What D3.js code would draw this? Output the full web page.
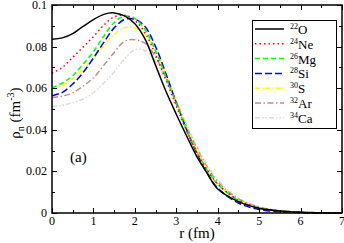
<!DOCTYPE html>
<html>
<head>
<meta charset="utf-8">
<script src="https://cdn.jsdelivr.net/npm/d3@7"></script>
<style>
  body { margin: 0; background: #fff; }
  svg { display: block; }
</style>
</head>
<body>
<div id="chart"></div>
<script>
var width = 344,
    height = 243;

var margin = {left: 52, right: 2, top: 5, bottom: 30};
var serif = "'Liberation Serif', 'DejaVu Serif', Times, serif";

// radial grid (fm)
var rValues = [0, 0.25, 0.5, 0.75, 1, 1.25, 1.5, 1.75, 2, 2.25, 2.5, 2.75, 3, 3.25, 3.5, 3.75, 4, 4.5, 5, 5.5, 6, 6.5, 7];

// neutron densities
var rhoO22  = [0.0835, 0.0842, 0.0862, 0.0897, 0.0930, 0.0955, 0.0962, 0.0948, 0.0910, 0.0835, 0.0710, 0.0585, 0.0475, 0.0370, 0.0270, 0.0190, 0.0115, 0.0055, 0.0023, 0.0010, 0.0004, 0.0001, 0];
var rhoNe24 = [0.0672, 0.0700, 0.0748, 0.0797, 0.0848, 0.0903, 0.0943, 0.0950, 0.0925, 0.0865, 0.0760, 0.0640, 0.0515, 0.0395, 0.0290, 0.0205, 0.0140, 0.0062, 0.0026, 0.0010, 0.0004, 0.0001, 0];
var rhoMg26 = [0.0602, 0.0625, 0.0660, 0.0715, 0.0775, 0.0850, 0.0915, 0.0947, 0.0935, 0.0880, 0.0780, 0.0655, 0.0525, 0.0400, 0.0292, 0.0205, 0.0138, 0.0060, 0.0024, 0.0009, 0.0003, 0.0001, 0];
var rhoSi28 = [0.0564, 0.0580, 0.0620, 0.0675, 0.0745, 0.0820, 0.0890, 0.0930, 0.0932, 0.0895, 0.0800, 0.0670, 0.0530, 0.0400, 0.0285, 0.0190, 0.0120, 0.0048, 0.0017, 0.0006, 0.0002, 0, 0];
var rhoS30  = [0.0600, 0.0615, 0.0645, 0.0690, 0.0742, 0.0805, 0.0858, 0.0890, 0.0890, 0.0860, 0.0780, 0.0665, 0.0535, 0.0410, 0.0300, 0.0210, 0.0140, 0.0060, 0.0024, 0.0009, 0.0003, 0.0001, 0];
var rhoAr32 = [0.0555, 0.0562, 0.0578, 0.0610, 0.0650, 0.0710, 0.0772, 0.0825, 0.0833, 0.0815, 0.0750, 0.0650, 0.0535, 0.0415, 0.0310, 0.0220, 0.0150, 0.0068, 0.0028, 0.0011, 0.0004, 0.0001, 0];
var rhoCa34 = [0.0512, 0.0518, 0.0530, 0.0548, 0.0578, 0.0625, 0.0678, 0.0740, 0.0785, 0.0780, 0.0730, 0.0645, 0.0540, 0.0425, 0.0320, 0.0230, 0.0160, 0.0072, 0.0030, 0.0012, 0.0005, 0.0001, 0];

var seriesMass  = ["22", "24", "26", "28", "30", "32", "34"];
var seriesElem  = ["O", "Ne", "Mg", "Si", "S", "Ar", "Ca"];
var seriesData  = [rhoO22, rhoNe24, rhoMg26, rhoSi28, rhoS30, rhoAr32, rhoCa34];
var seriesColor = ["#000000", "#ff0000", "#00ff00", "#0000ff", "#ffff00", "#bc8f8f", "#dcdcdc"];
var seriesDash  = [null, "1.5,3", "5,3", "7,3", "5,2,1.5,2", "6,2.5,1.5,2.5", "5,2,1.5,2,1.5,2"];

var xTicks = [0, 1, 2, 3, 4, 5, 6, 7];
var yTicks = [0, 0.02, 0.04, 0.06, 0.08, 0.1];

var svg = d3.select("#chart").append("svg")
  .attr("width", width)
  .attr("height", height)
  .style("font-family", serif);

var x = d3.scaleLinear()
  .domain([0, 7])
  .range([margin.left, width - margin.right]);

var y = d3.scaleLinear()
  .domain([0, 0.1])
  .range([height - margin.bottom, margin.top]);

var plot = svg.append("g");

// curves
var line = d3.line()
  .curve(d3.curveCatmullRom.alpha(0.5))
  .x(function(d) { return x(d[0]); })
  .y(function(d) { return y(d[1]); });

// draw from the last one so black ends on top
for (var s = seriesData.length - 1; s >= 0; s--) {
  var pts = rValues.map(function(r, i) { return [r, seriesData[s][i]]; });
  plot.append("path")
    .datum(pts)
    .attr("d", line)
    .style("fill", "none")
    .style("stroke", seriesColor[s])
    .style("stroke-width", 1.5)
    .style("stroke-dasharray", seriesDash[s]);
}

// frame + inward ticks
var x0 = x(0), x1 = x(7), y0 = y(0), y1 = y(0.1);
var frame = svg.append("g");

function tick(xa, ya, xb, yb) {
  frame.append("line")
    .attr("x1", xa).attr("y1", ya).attr("x2", xb).attr("y2", yb)
    .style("stroke", "#000").style("stroke-width", 1);
}

d3.range(0, 7.001, 0.5).forEach(function(v) {
  var len = (Math.abs(v - Math.round(v)) < 1e-6) ? 5 : 3;
  var px = Math.round(x(v)) + 0.5;
  tick(px, y0, px, y0 - len);
  tick(px, y1, px, y1 + len);
});
d3.range(0, 0.1001, 0.01).forEach(function(v, i) {
  var len = (i % 2 === 0) ? 5 : 3;
  var py = Math.round(y(v)) + 0.5;
  tick(x0, py, x0 + len, py);
  tick(x1, py, x1 - len, py);
});

frame.append("rect")
  .attr("x", x0).attr("y", y1)
  .attr("width", x1 - x0).attr("height", y0 - y1)
  .style("fill", "none").style("stroke", "#000").style("stroke-width", 1.5);

// tick labels
svg.selectAll(".xlab")
  .data(xTicks)
  .enter().append("text")
  .attr("class", "xlab")
  .attr("x", function(d) { return x(d); })
  .attr("y", y0 + 12)
  .attr("text-anchor", "middle")
  .style("font-size", "12px")
  .text(function(d) { return d; });

svg.selectAll(".ylab")
  .data(yTicks)
  .enter().append("text")
  .attr("class", "ylab")
  .attr("x", x0 - 5)
  .attr("y", function(d) { return y(d) + 4; })
  .attr("text-anchor", "end")
  .style("font-size", "12px")
  .text(function(d) { return d === 0 ? "0" : d3.format(".2~f")(d); });

// axis titles
svg.append("text")
  .attr("x", (x0 + x1) / 2)
  .attr("y", height - 5)
  .attr("text-anchor", "middle")
  .style("font-size", "15px")
  .text("r (fm)");

var yt = svg.append("text")
  .attr("transform", "translate(20," + 113 + ") rotate(-90)")
  .attr("text-anchor", "middle")
  .style("font-size", "15px");
yt.append("tspan").text("ρ");
yt.append("tspan").attr("dy", 4).style("font-size", "10px").text("n");
yt.append("tspan").attr("dy", -4).text(" (fm");
yt.append("tspan").attr("dy", -6).style("font-size", "10px").text("-3");
yt.append("tspan").attr("dy", 6).text(")");

svg.append("text")
  .attr("x", 70)
  .attr("y", 162)
  .style("font-size", "15px")
  .text("(a)");

// legend
var lg = svg.append("g");
lg.append("rect")
  .attr("x", 252.5).attr("y", 20.5)
  .attr("width", 84).attr("height", 108)
  .style("fill", "#fff").style("stroke", "#000").style("stroke-width", 1);

seriesMass.forEach(function(m, i) {
  var ly = 29 + i * 14.8;
  lg.append("line")
    .attr("x1", 255).attr("x2", 284)
    .attr("y1", ly).attr("y2", ly)
    .style("stroke", seriesColor[i])
    .style("stroke-width", 1.5)
    .style("stroke-dasharray", seriesDash[i]);
  var t = lg.append("text")
    .attr("x", 290)
    .attr("y", ly + 5)
    .style("font-size", "13px");
  t.append("tspan").attr("dy", -5).style("font-size", "8px").text(m);
  t.append("tspan").attr("dy", 5).text(seriesElem[i]);
});
</script>
</body>
</html>
